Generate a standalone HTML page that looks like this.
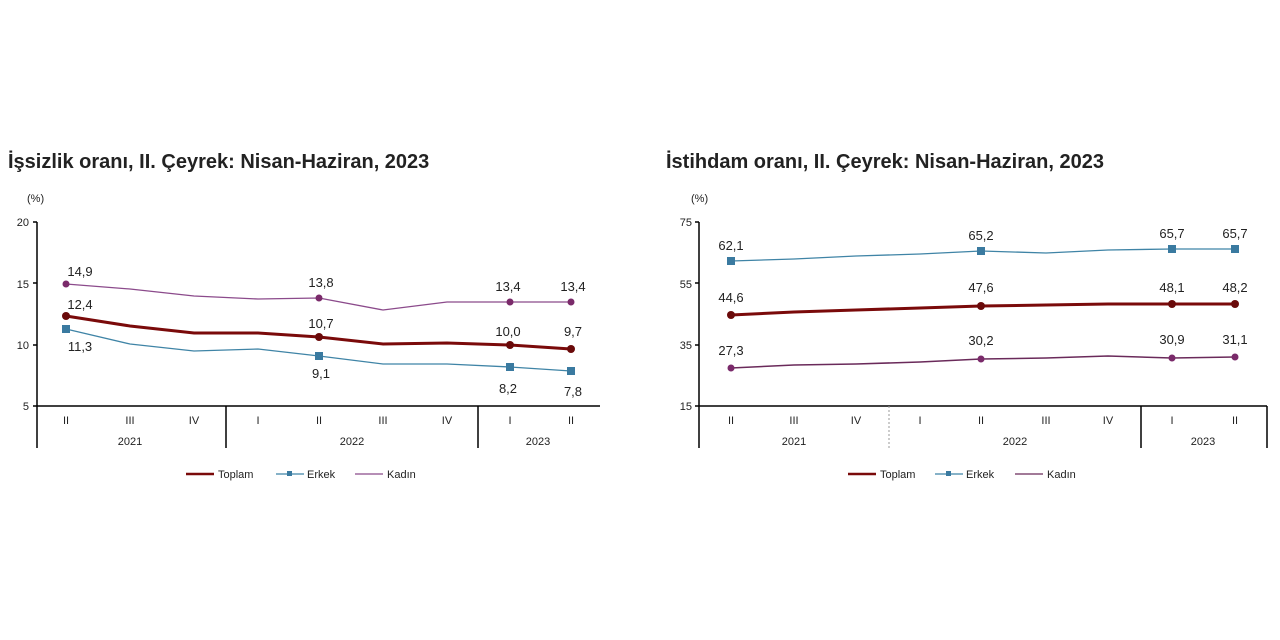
<!DOCTYPE html>
<html><head><meta charset="utf-8"><style>
body{margin:0;background:#fff;width:1280px;height:640px;overflow:hidden}
svg{display:block;font-family:"Liberation Sans",sans-serif}
.t{font-size:20px;font-weight:bold;fill:#222}
.s{font-size:11px;fill:#222}
.d{font-size:13px;fill:#222}
</style></head><body>
<svg width="1280" height="640" viewBox="0 0 1280 640">
<!-- LEFT -->
<text x="8" y="168" class="t">İşsizlik oranı, II. Çeyrek: Nisan-Haziran, 2023</text>
<text x="27" y="202" class="s">(%)</text>
<g class="s" text-anchor="end">
<text x="29" y="226">20</text><text x="29" y="288">15</text><text x="29" y="349">10</text><text x="29" y="410">5</text></g>
<g stroke="#000" stroke-width="1.5" fill="none">
<line x1="37" y1="222" x2="37" y2="448"/><line x1="33" y1="222" x2="37" y2="222"/><line x1="33" y1="283" x2="37" y2="283"/><line x1="33" y1="345" x2="37" y2="345"/>
<line x1="33" y1="406" x2="600" y2="406"/>
<line x1="226" y1="406" x2="226" y2="448"/><line x1="478" y1="406" x2="478" y2="448"/></g>
<g class="s" text-anchor="middle">
<text x="66" y="424">II</text><text x="130" y="424">III</text><text x="194" y="424">IV</text><text x="258" y="424">I</text><text x="319" y="424">II</text><text x="383" y="424">III</text><text x="447" y="424">IV</text><text x="510" y="424">I</text><text x="571" y="424">II</text>
<text x="130" y="445">2021</text><text x="352" y="445">2022</text><text x="538" y="445">2023</text></g>
<polyline fill="none" stroke="#8b4a8b" stroke-width="1.3" points="66,284 130,289 194,296 258,299 319,298 383,310 447,302 510,302 571,302"/>
<polyline fill="none" stroke="#3f84a6" stroke-width="1.3" points="66,329 130,344 194,351 258,349 319,356 383,364 447,364 510,367 571,371"/>
<polyline fill="none" stroke="#7a0a0a" stroke-width="3" points="66,316 130,326 194,333 258,333 319,337 383,344 447,343 510,345 571,349"/>
<g fill="#7a2a6a"><circle cx="66" cy="284" r="3.5"/><circle cx="319" cy="298" r="3.5"/><circle cx="510" cy="302" r="3.5"/><circle cx="571" cy="302" r="3.5"/></g>
<g fill="#3a7aa0"><rect x="62" y="325" width="8" height="8"/><rect x="315" y="352" width="8" height="8"/><rect x="506" y="363" width="8" height="8"/><rect x="567" y="367" width="8" height="8"/></g>
<g fill="#6a0a0a"><circle cx="66" cy="316" r="4"/><circle cx="319" cy="337" r="4"/><circle cx="510" cy="345" r="4"/><circle cx="571" cy="349" r="4"/></g>
<g class="d" text-anchor="middle">
<text x="80" y="276">14,9</text><text x="80" y="309">12,4</text><text x="80" y="351">11,3</text>
<text x="321" y="287">13,8</text><text x="321" y="328">10,7</text><text x="321" y="378">9,1</text>
<text x="508" y="291">13,4</text><text x="508" y="336">10,0</text><text x="508" y="393">8,2</text>
<text x="573" y="291">13,4</text><text x="573" y="336">9,7</text><text x="573" y="396">7,8</text></g>
<g class="s"><line x1="186" y1="474" x2="214" y2="474" stroke="#7a0a0a" stroke-width="2.5"/><text x="218" y="478">Toplam</text>
<line x1="276" y1="474" x2="304" y2="474" stroke="#3f84a6" stroke-width="1.3"/><rect x="287" y="471" width="5" height="5" fill="#3a7aa0"/><text x="307" y="478">Erkek</text>
<line x1="355" y1="474" x2="383" y2="474" stroke="#8b4a8b" stroke-width="1.3"/><text x="387" y="478">Kadın</text></g>

<!-- RIGHT -->
<text x="666" y="168" class="t">İstihdam oranı, II. Çeyrek: Nisan-Haziran, 2023</text>
<text x="691" y="202" class="s">(%)</text>
<g class="s" text-anchor="end">
<text x="692" y="226">75</text><text x="692" y="288">55</text><text x="692" y="349">35</text><text x="692" y="410">15</text></g>
<g stroke="#000" stroke-width="1.5" fill="none">
<line x1="699" y1="222" x2="699" y2="448"/><line x1="695" y1="222" x2="699" y2="222"/><line x1="695" y1="283" x2="699" y2="283"/><line x1="695" y1="345" x2="699" y2="345"/>
<line x1="695" y1="406" x2="1267" y2="406"/>
<line x1="1141" y1="406" x2="1141" y2="448"/><line x1="1267" y1="406" x2="1267" y2="448"/></g>
<line x1="889" y1="406" x2="889" y2="448" stroke="#999" stroke-dasharray="2,2"/>
<g class="s" text-anchor="middle">
<text x="731" y="424">II</text><text x="794" y="424">III</text><text x="856" y="424">IV</text><text x="920" y="424">I</text><text x="981" y="424">II</text><text x="1046" y="424">III</text><text x="1108" y="424">IV</text><text x="1172" y="424">I</text><text x="1235" y="424">II</text>
<text x="794" y="445">2021</text><text x="1015" y="445">2022</text><text x="1203" y="445">2023</text></g>
<polyline fill="none" stroke="#3f84a6" stroke-width="1.3" points="731,261 794,259 856,256 920,254 981,251 1046,253 1108,250 1172,249 1235,249"/>
<polyline fill="none" stroke="#7a0a0a" stroke-width="3" points="731,315 794,312 856,310 920,308 981,306 1046,305 1108,304 1172,304 1235,304"/>
<polyline fill="none" stroke="#6a2a5a" stroke-width="1.5" points="731,368 794,365 856,364 920,362 981,359 1046,358 1108,356 1172,358 1235,357"/>
<g fill="#3a7aa0"><rect x="727" y="257" width="8" height="8"/><rect x="977" y="247" width="8" height="8"/><rect x="1168" y="245" width="8" height="8"/><rect x="1231" y="245" width="8" height="8"/></g>
<g fill="#6a0a0a"><circle cx="731" cy="315" r="4"/><circle cx="981" cy="306" r="4"/><circle cx="1172" cy="304" r="4"/><circle cx="1235" cy="304" r="4"/></g>
<g fill="#7a2a6a"><circle cx="731" cy="368" r="3.5"/><circle cx="981" cy="359" r="3.5"/><circle cx="1172" cy="358" r="3.5"/><circle cx="1235" cy="357" r="3.5"/></g>
<g class="d" text-anchor="middle">
<text x="731" y="250">62,1</text><text x="981" y="240">65,2</text><text x="1172" y="238">65,7</text><text x="1235" y="238">65,7</text>
<text x="731" y="302">44,6</text><text x="981" y="292">47,6</text><text x="1172" y="292">48,1</text><text x="1235" y="292">48,2</text>
<text x="731" y="355">27,3</text><text x="981" y="345">30,2</text><text x="1172" y="344">30,9</text><text x="1235" y="344">31,1</text></g>
<g class="s"><line x1="848" y1="474" x2="876" y2="474" stroke="#7a0a0a" stroke-width="2.5"/><text x="880" y="478">Toplam</text>
<line x1="935" y1="474" x2="963" y2="474" stroke="#3f84a6" stroke-width="1.3"/><rect x="946" y="471" width="5" height="5" fill="#3a7aa0"/><text x="966" y="478">Erkek</text>
<line x1="1015" y1="474" x2="1043" y2="474" stroke="#6a2a5a" stroke-width="1.3"/><text x="1047" y="478">Kadın</text></g>
</svg>
</body></html>
